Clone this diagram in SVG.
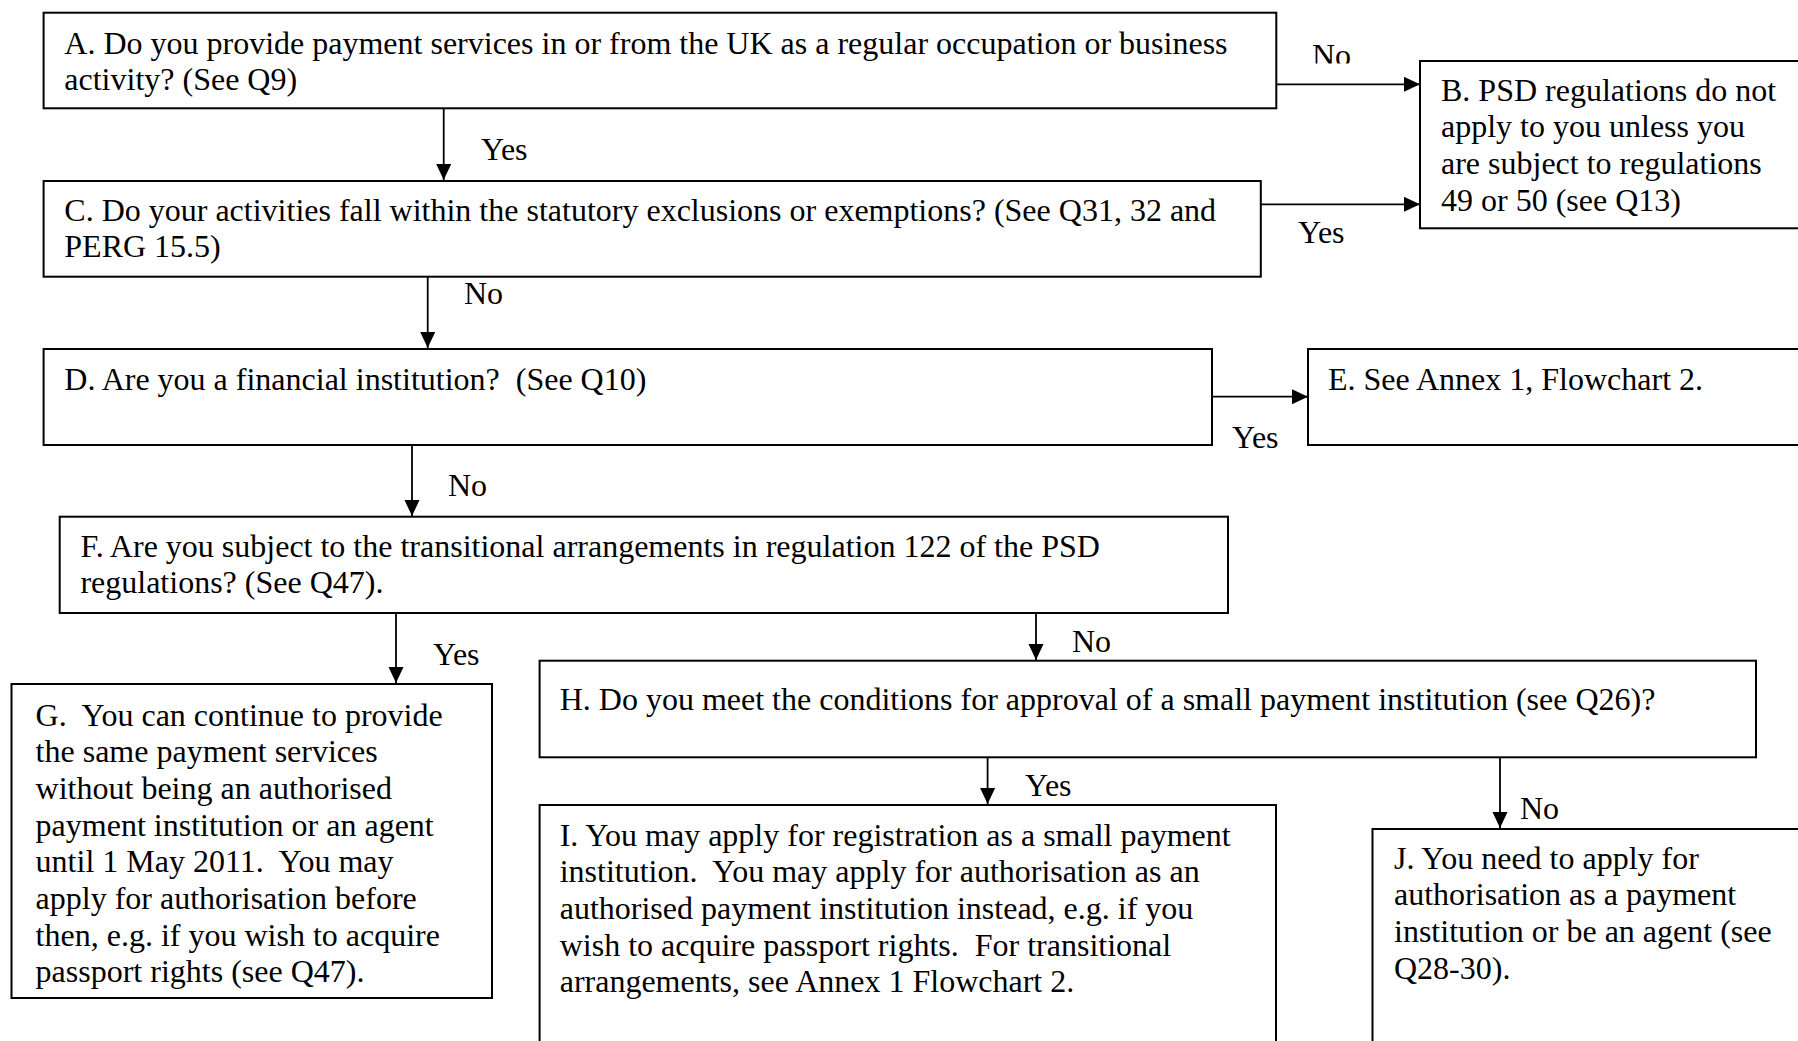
<svg xmlns="http://www.w3.org/2000/svg" width="1798" height="1041" viewBox="0 0 1798 1041">
<defs>
<style>
.box{fill:#fff;stroke:#000;stroke-width:2}
.t{font-family:"Liberation Serif","Times New Roman",serif;font-size:32px;fill:#000;white-space:pre}
.c{stroke:#000;stroke-width:1.8;fill:none;marker-end:url(#ah)}
</style>
<marker id="ah" markerUnits="userSpaceOnUse" markerWidth="17" markerHeight="16" refX="16" refY="7.5" orient="auto">
<path d="M0,0 L16,7.5 L0,15 z" fill="#000"/>
</marker>
<clipPath id="clipNo"><rect x="1290" y="30" width="80" height="33.5"/></clipPath>
</defs>
<rect width="1798" height="1041" fill="#fff"/>
<g id="connectors">
<line class="c" x1="1276" y1="84.3" x2="1420" y2="84.3"/>
<line class="c" x1="443.7" y1="108.3" x2="443.7" y2="180"/>
<line class="c" x1="1260.8" y1="204.3" x2="1420" y2="204.3"/>
<line class="c" x1="427.7" y1="276.7" x2="427.7" y2="348"/>
<line class="c" x1="1212" y1="396.7" x2="1308" y2="396.7"/>
<line class="c" x1="412" y1="445" x2="412" y2="516"/>
<line class="c" x1="396" y1="613" x2="396" y2="683"/>
<line class="c" x1="1036" y1="613" x2="1036" y2="660"/>
<line class="c" x1="987.6" y1="757.3" x2="987.6" y2="804"/>
<line class="c" x1="1500" y1="757.3" x2="1500" y2="828"/>
<text class="t" x="1312" y="66" clip-path="url(#clipNo)">No</text>
<text class="t" x="481" y="160">Yes</text>
<text class="t" x="1298" y="242.7">Yes</text>
<text class="t" x="464" y="304">No</text>
<text class="t" x="1232" y="448">Yes</text>
<text class="t" x="448" y="496">No</text>
<text class="t" x="433" y="665">Yes</text>
<text class="t" x="1072" y="652">No</text>
<text class="t" x="1025" y="796">Yes</text>
<text class="t" x="1520" y="819">No</text>
</g>
<g id="nodeA">
<rect class="box" x="43.6" y="12.7" width="1232.7" height="95.6"/>
<text class="t" x="64.3" y="53.5">A. Do you provide payment services in or from the UK as a regular occupation or business</text>
<text class="t" x="64.3" y="90.2">activity? (See Q9)</text>
</g>
<g id="nodeB">
<rect class="box" x="1420" y="61" width="400" height="167.3"/>
<text class="t" x="1441" y="100.5">B. PSD regulations do not</text>
<text class="t" x="1441" y="137.2">apply to you unless you</text>
<text class="t" x="1441" y="173.9">are subject to regulations</text>
<text class="t" x="1441" y="210.6">49 or 50 (see Q13)</text>
</g>
<g id="nodeC">
<rect class="box" x="43.6" y="181" width="1217.2" height="95.7"/>
<text class="t" x="64.3" y="220.7">C. Do your activities fall within the statutory exclusions or exemptions? (See Q31, 32 and</text>
<text class="t" x="64.3" y="257.3">PERG 15.5)</text>
</g>
<g id="nodeD">
<rect class="box" x="43.6" y="349" width="1168.4" height="96"/>
<text class="t" x="64.3" y="390">D. Are you a financial institution?  (See Q10)</text>
</g>
<g id="nodeE">
<rect class="box" x="1308" y="349" width="520" height="96"/>
<text class="t" x="1328" y="390">E. See Annex 1, Flowchart 2.</text>
</g>
<g id="nodeF">
<rect class="box" x="59.7" y="516.7" width="1168.3" height="96.3"/>
<text class="t" x="80.4" y="556.7">F. Are you subject to the transitional arrangements in regulation 122 of the PSD</text>
<text class="t" x="80.4" y="593.3">regulations? (See Q47).</text>
</g>
<g id="nodeG">
<rect class="box" x="11.5" y="684" width="480.5" height="314"/>
<text class="t" x="35.6" y="725.5">G.  You can continue to provide</text>
<text class="t" x="35.6" y="762.2">the same payment services</text>
<text class="t" x="35.6" y="798.9">without being an authorised</text>
<text class="t" x="35.6" y="835.6">payment institution or an agent</text>
<text class="t" x="35.6" y="872.3">until 1 May 2011.  You may</text>
<text class="t" x="35.6" y="909">apply for authorisation before</text>
<text class="t" x="35.6" y="945.7">then, e.g. if you wish to acquire</text>
<text class="t" x="35.6" y="982.4">passport rights (see Q47).</text>
</g>
<g id="nodeH">
<rect class="box" x="539.6" y="660.7" width="1216.4" height="96.6"/>
<text class="t" x="559.7" y="710">H. Do you meet the conditions for approval of a small payment institution (see Q26)?</text>
</g>
<g id="nodeI">
<rect class="box" x="539.6" y="805" width="736.4" height="260"/>
<text class="t" x="559.7" y="845.5">I. You may apply for registration as a small payment</text>
<text class="t" x="559.7" y="882.2">institution.  You may apply for authorisation as an</text>
<text class="t" x="559.7" y="918.9">authorised payment institution instead, e.g. if you</text>
<text class="t" x="559.7" y="955.6">wish to acquire passport rights.  For transitional</text>
<text class="t" x="559.7" y="992.3">arrangements, see Annex 1 Flowchart 2.</text>
</g>
<g id="nodeJ">
<rect class="box" x="1372.5" y="829" width="450" height="250"/>
<text class="t" x="1394" y="868.5">J. You need to apply for</text>
<text class="t" x="1394" y="905.2">authorisation as a payment</text>
<text class="t" x="1394" y="941.9">institution or be an agent (see</text>
<text class="t" x="1394" y="978.6">Q28-30).</text>
</g>
</svg>
